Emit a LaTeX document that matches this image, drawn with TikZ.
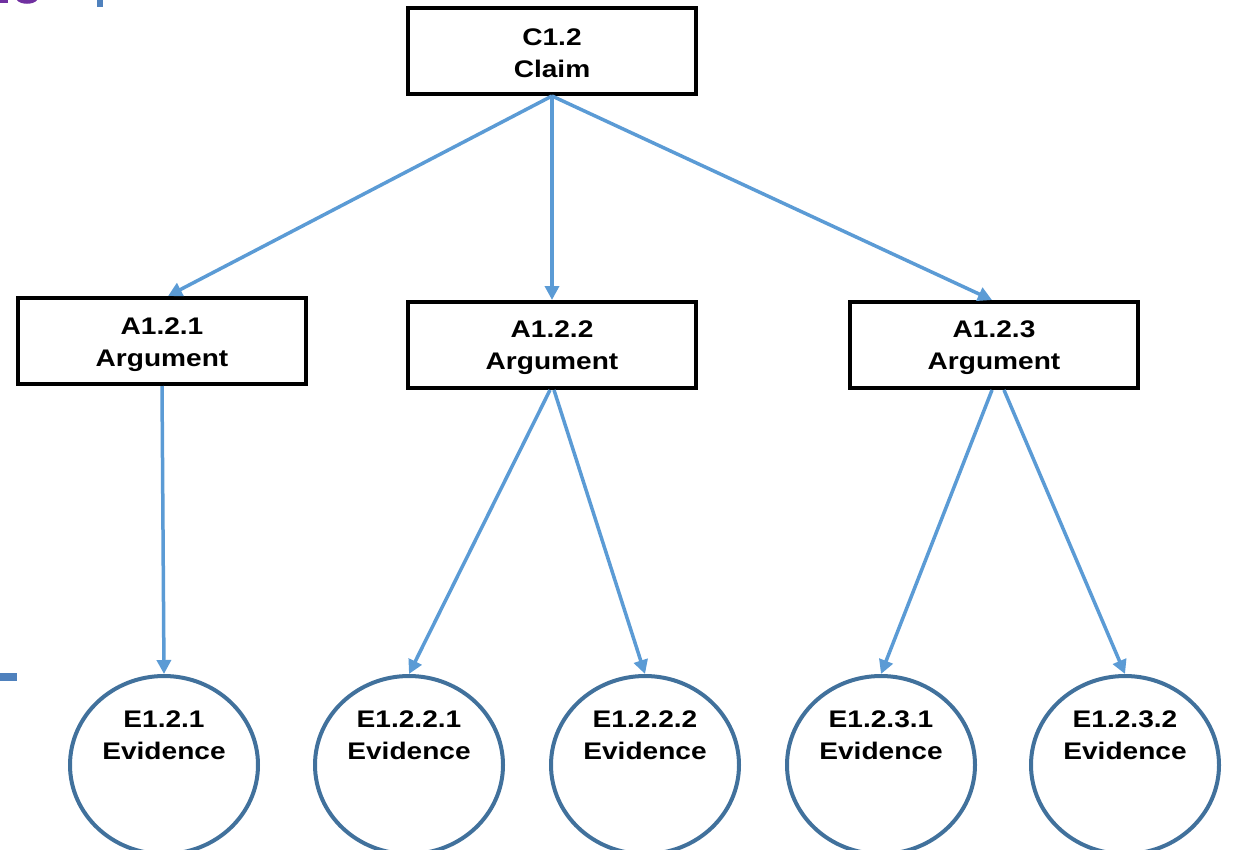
\documentclass[tikz,border=0pt]{standalone}
\usepackage{fontspec}
\setmainfont{Liberation Sans}[FakeStretch=1.17]
\usetikzlibrary{arrows.meta,shapes.geometric}
\definecolor{arrowblue}{RGB}{91,155,213}
\definecolor{ringblue}{RGB}{65,113,156}
\definecolor{barblue}{RGB}{79,129,189}
\definecolor{fragpurple}{RGB}{112,48,160}
\begin{document}
\begin{tikzpicture}[x=1pt,y=-1pt,
  boxnode/.style={draw=black,line width=4pt,fill=white,minimum width=288pt,minimum height=86pt,inner sep=0pt},
  ringnode/.style={draw=ringblue,line width=4pt,fill=white,ellipse,minimum width=188pt,minimum height=178pt,inner sep=0pt},
  txt/.style={font=\fontsize{24}{32}\selectfont\bfseries,align=center,text=black},
  conn/.style={draw=arrowblue,line width=3.5pt,-{Triangle[length=14pt,width=14pt]}}]
\useasboundingbox (0,0) rectangle (1233,849);
% cropped fragments at the edges
\fill[fragpurple] (0,0) rectangle (8,3);
\fill[fragpurple] (17,0) .. controls (20,5) and (34,5) .. (37,0) -- cycle;
\fill[barblue] (97,0) rectangle (103,7);
\fill[barblue] (0,673) rectangle (17,681);
% boxes
\node[boxnode] (c) at (552,51) {};
\node[txt] at (552,53) {C1.2\\Claim};
\node[boxnode] (a1) at (162,341) {};
\node[txt] at (162,345) {A1.2.1\\Argument};
\node[boxnode] (a2) at (552,345) {};
\node[txt] at (552,348) {A1.2.2\\Argument};
\node[boxnode] (a3) at (994,345) {};
\node[txt] at (994,348) {A1.2.3\\Argument};
% evidence circles
\node[ringnode] (e1) at (164,765) {};
\node[txt] at (164,735) {E1.2.1\\Evidence};
\node[ringnode] (e21) at (409,765) {};
\node[txt] at (409,735) {E1.2.2.1\\Evidence};
\node[ringnode] (e22) at (645,765) {};
\node[txt] at (645,735) {E1.2.2.2\\Evidence};
\node[ringnode] (e31) at (881,765) {};
\node[txt] at (881,735) {E1.2.3.1\\Evidence};
\node[ringnode] (e32) at (1125,765) {};
\node[txt] at (1125,735) {E1.2.3.2\\Evidence};
% connectors
\draw[conn] (c.south) -- ([xshift=6pt]a1.north);
\draw[conn] (c.south) -- (a2.north);
\draw[conn] (c.south) -- ([xshift=-2pt]a3.north);
\draw[conn] (a1.south) -- (e1.north);
\draw[conn] ([xshift=-2pt]a2.south) -- (e21.north);
\draw[conn] ([xshift=2pt]a2.south) -- (e22.north);
\draw[conn] ([xshift=-2pt]a3.south) -- (e31.north);
\draw[conn] ([xshift=10pt]a3.south) -- (e32.north);
\end{tikzpicture}
\end{document}
